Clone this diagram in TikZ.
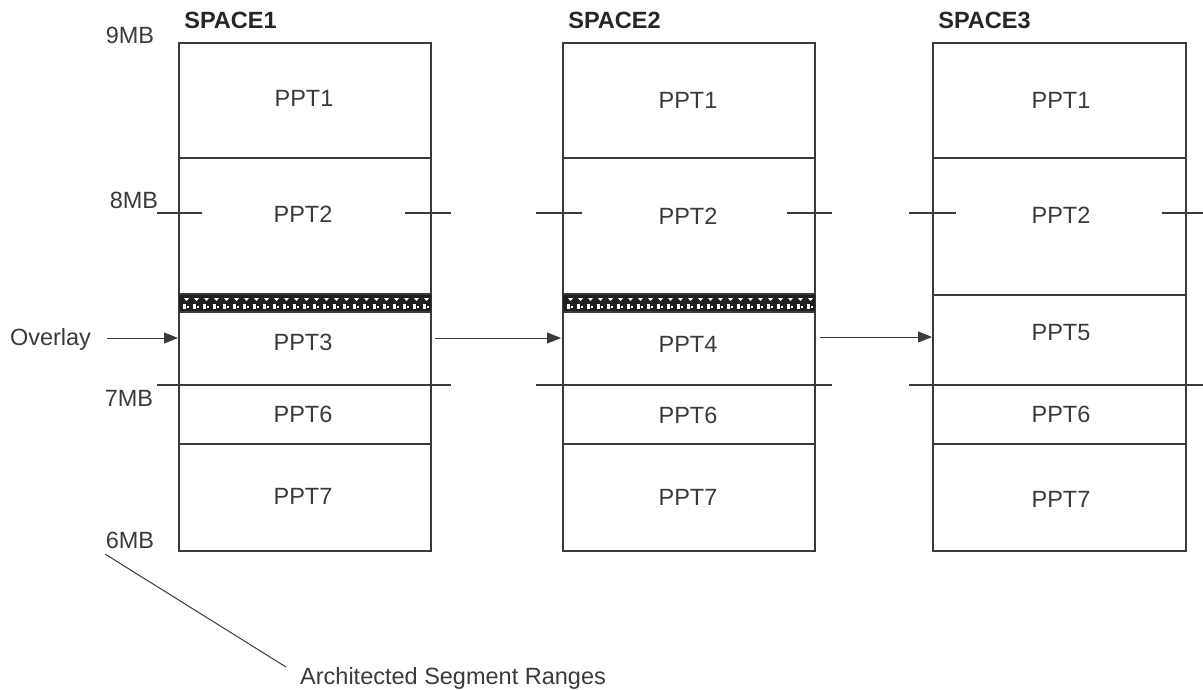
\documentclass[tikz,border=0pt]{standalone}
\usepackage{fontspec}
\setmainfont{Liberation Sans}
\usetikzlibrary{arrows.meta}
\definecolor{ink}{HTML}{3A3A3A}
\tikzset{
  boxline/.style={draw=ink, line width=1.2pt},
  tickline/.style={draw=ink, line width=1.2pt},
  lbl/.style={text=ink, font=\fontsize{23.5}{24}\selectfont, inner sep=0pt},
  ttl/.style={text=black!85, font=\fontsize{23.5}{24}\selectfont\bfseries, inner sep=0pt},
  flow/.style={draw=ink, line width=1pt, -{Triangle[length=14pt,width=11pt]}},
  band/.style={fill=black!88},
  speck/.style={fill=white}
}
\begin{document}
\begin{tikzpicture}[x=1pt,y=-1pt]
\useasboundingbox (0,0) rectangle (1203,690);
% boxes
\foreach \xl/\xr in {179/431, 563/815, 933/1186}{
  \draw[boxline] (\xl,43) rectangle (\xr,551);
  \draw[boxline] (\xl,158) -- (\xr,158);
  \draw[boxline] (\xl,385) -- (\xr,385);
  \draw[boxline] (\xl,444) -- (\xr,444);
}
% overlay bands
\foreach \xl/\xr in {179/431, 563/815}{
  \fill[band] (\xl,294) rectangle (\xr,312);
  \foreach \i in {0,...,24}{
    \fill[speck] ({\xl+5+10*\i},298) -- ++(5,0) -- ++(-2.5,3) -- cycle;
    \fill[speck] ({\xl+4+10*\i},304) rectangle ++(3,5);
    \fill[speck] ({\xl+8+10*\i},305.5) rectangle ++(2,2);
  }
  \draw[boxline] (\xl,294) -- (\xr,294);
  \draw[boxline] (\xl,312) -- (\xr,312);
}
\draw[boxline] (933,295) -- (1186,295);
% ticks
\foreach \y in {213,385}{
  \draw[tickline] (157,\y) -- (202,\y);
  \draw[tickline] (405,\y) -- (451,\y);
  \draw[tickline] (536,\y) -- (582,\y);
  \draw[tickline] (787,\y) -- (832,\y);
  \draw[tickline] (909,\y) -- (956,\y);
  \draw[tickline] (1162,\y) -- (1203,\y);
}
% titles
\node[ttl] (t1) at (230.5,20) {SPACE1};
\node[ttl] (t2) at (614.5,20) {SPACE2};
\node[ttl] (t3) at (984.5,20) {SPACE3};
% MB labels
\node[lbl] (m9) at (130,35) {9MB};
\node[lbl] (m8) at (134,200) {8MB};
\node[lbl] (m7) at (129,398) {7MB};
\node[lbl] (m6) at (130,540) {6MB};
% PPT labels
\node[lbl] (a1) at (304,98) {PPT1};
\node[lbl] (a2) at (303,214) {PPT2};
\node[lbl] (a3) at (303,342.5) {PPT3};
\node[lbl] (a6) at (303,414) {PPT6};
\node[lbl] (a7) at (303,496) {PPT7};
\node[lbl] (b1) at (688,100) {PPT1};
\node[lbl] (b2) at (688,216.5) {PPT2};
\node[lbl] (b4) at (688,344) {PPT4};
\node[lbl] (b6) at (688,415) {PPT6};
\node[lbl] (b7) at (688,497) {PPT7};
\node[lbl] (c1) at (1061,100) {PPT1};
\node[lbl] (c2) at (1061,215) {PPT2};
\node[lbl] (c5) at (1061,332.5) {PPT5};
\node[lbl] (c6) at (1061,414) {PPT6};
\node[lbl] (c7) at (1061,499) {PPT7};
% overlay arrows
\node[lbl] (ov) at (50.5,339) {Overlay};
\coordinate (s1in) at (178,338);
\coordinate (s1out) at (435,338);
\coordinate (s2in) at (561,338);
\coordinate (s2out) at (820,337);
\coordinate (s3in) at (932,337);
\draw[flow] (107,338) -- (s1in);
\draw[flow] (s1out) -- (s2in);
\draw[flow] (s2out) -- (s3in);
% architected segment ranges
\coordinate (dl) at (105,554);
\node[lbl, anchor=west] (arch) at (300,678) {Architected Segment Ranges};
\draw[ink, line width=1pt] (dl) -- (286,667);
\end{tikzpicture}
\end{document}
